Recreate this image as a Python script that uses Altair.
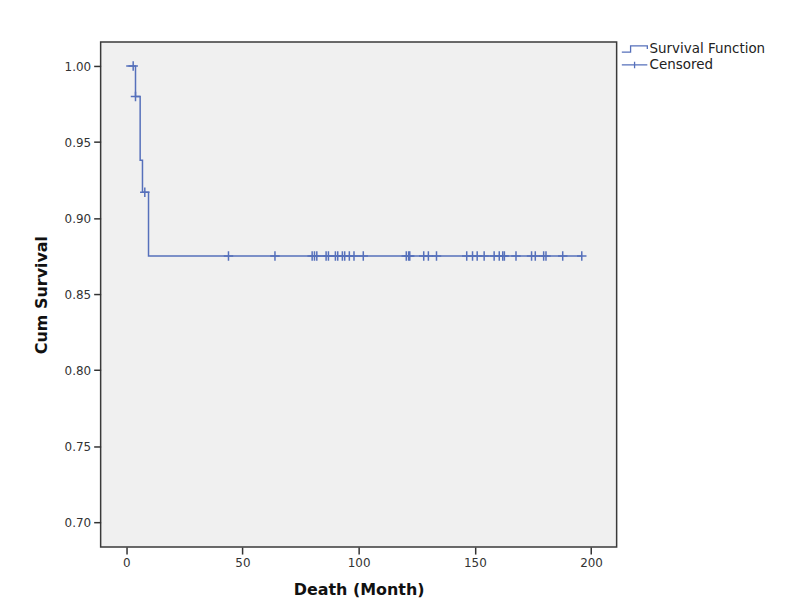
import altair as alt
import pandas as pd

# Kaplan-Meier survival steps (time in months, cumulative survival)
step_times = [0, 4, 6, 7, 9.6, 196]
step_surv = [1.0, 0.98, 0.938, 0.917, 0.875, 0.875]

# Censored observations
cens_times = [3, 4, 8,
              44, 64, 80, 81, 82, 86, 87, 90, 91, 93, 94, 96, 98, 102,
              120.5, 121.5, 122, 128, 130, 133.5, 146.5, 149, 151, 154,
              158.3, 160.5, 162, 162.7, 167.7, 174.4, 176, 179.6, 180.6,
              187.8, 196]
cens_surv = [1.0, 0.98, 0.917] + [0.875] * 35

x_ticks = [0, 50, 100, 150, 200]
y_ticks = [0.70, 0.75, 0.80, 0.85, 0.90, 0.95, 1.00]

BLUE = "#5670bb"
FONT = "DejaVu Sans"

steps = pd.DataFrame({"t": step_times, "s": step_surv})
cens = pd.DataFrame({"t": cens_times, "s": cens_surv, "kind": ["Censored"] * len(cens_times)})

xs = alt.Scale(domain=[-11, 211], nice=False, zero=False)
ys = alt.Scale(domain=[0.6836, 1.0158], nice=False, zero=False)

xax = alt.Axis(values=x_ticks, format="d", title="Death (Month)", grid=False)
yax = alt.Axis(values=y_ticks, format=".2f", title="Cum Survival", grid=False)

line = alt.Chart(steps).mark_line(interpolate="step-after", color=BLUE, strokeWidth=1.5).encode(
    x=alt.X("t:Q", scale=xs, axis=xax),
    y=alt.Y("s:Q", scale=ys, axis=yax),
)

PLUS = "M0,-0.5L0,0.5M-0.5,0L0.5,0"
LEG_STEP = "M-1.6,0.4L-0.5,0.4L-0.5,-0.4L1.6,-0.4L1.6,0"
LEG_PLUS = "M-1.6,0L1.6,0M0,-0.4L0,0.4"

pts = alt.Chart(cens).mark_point(filled=False, color=BLUE, strokeWidth=1.5, size=361, opacity=1).encode(
    x=alt.X("t:Q", scale=xs),
    y=alt.Y("s:Q", scale=ys),
    shape=alt.Shape(
        "kind:N",
        scale=alt.Scale(domain=["Survival Function", "Censored"], range=[PLUS, PLUS]),
        legend=None,
    ),
)

# legend-only layer
leg = alt.Chart(cens).mark_point(filled=False, color=BLUE, strokeWidth=1.5, opacity=0).encode(
    x=alt.X("t:Q", scale=xs),
    y=alt.Y("s:Q", scale=ys),
    shape=alt.Shape(
        "kind:N",
        scale=alt.Scale(domain=["Survival Function", "Censored"], range=[LEG_STEP, LEG_PLUS]),
        legend=alt.Legend(
            title=None, orient="none", legendX=527, legendY=-2,
            symbolSize=256, symbolStrokeColor=BLUE, symbolFillColor="transparent",
            symbolStrokeWidth=1.3, symbolOpacity=1,
            labelFont=FONT, labelFontSize=13.5, labelColor="#222", labelOffset=6,
            rowPadding=0,
        ),
    ),
)

chart = alt.layer(line, pts, leg).resolve_scale(shape="independent").properties(
    width=518, height=507,
    autosize=alt.AutoSizeParams(type="none"),
    padding={"left": 93, "top": 33, "right": 166, "bottom": 65},
).configure_view(
    fill="#f0f0f0", stroke="#3a3a3a", strokeWidth=1.5,
).configure_axis(
    domain=False, tickColor="#333", tickSize=7, tickWidth=1.5,
    labelFont=FONT, labelFontSize=12, labelColor="#333", labelPadding=3,
    titleFont=FONT, titleFontSize=16, titleFontWeight="bold", titleColor="#111",
).configure_axisY(titlePadding=15).configure_axisX(titlePadding=14)

chart.save("out.html", embed_options={"renderer": "svg", "actions": False})
